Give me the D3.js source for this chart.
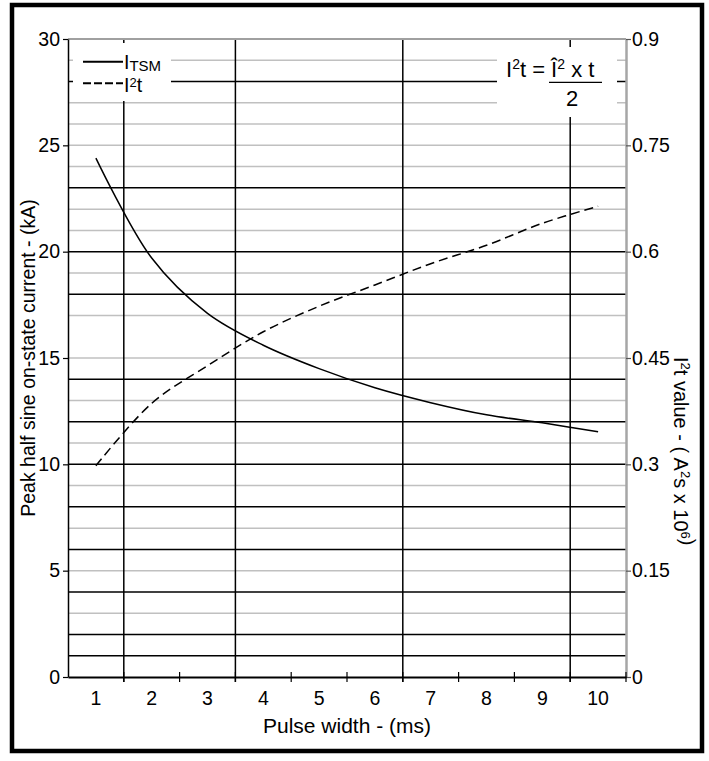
<!DOCTYPE html>
<html>
<head>
<meta charset="utf-8">
<script src="https://cdn.jsdelivr.net/npm/d3@7"></script>
<style>
body { margin: 0; background: #fff; }
text { font-family: Arial, 'Liberation Sans', sans-serif; fill: #000; }
</style>
</head>
<body>
<svg id="chart"></svg>
<script>
// values
const pulseWidth = ['1', '2', '3', '4', '5', '6', '7', '8', '9', '10'];
const itsmKA = [24.4, 19.7, 17.1, 15.6, 14.5, 13.6, 12.9, 12.33, 11.95, 11.53];
const i2tValue = [0.298, 0.386, 0.439, 0.487, 0.523, 0.553, 0.583, 0.609, 0.640, 0.664];

const leftTicks = [0, 5, 10, 15, 20, 25, 30];
const rightTicks = [0, 0.15, 0.3, 0.45, 0.6, 0.75, 0.9];
const blackGrid = [1, 2, 4, 6, 8, 10, 12, 14, 18, 20, 23, 28];
const grayGrid = [3, 5, 7, 9, 11, 13, 15, 17, 19, 21, 22, 24, 25, 26, 27, 29];
const blackColumnsAfter = ['1', '3', '6', '9'];

class SurgeChart {

      constructor(config) {
            this.config = {
                  parent: config.parent,
                  width: config.width || 709,
                  height: config.height || 761,
                  margin: config.margin || {top: 39, right: 83, bottom: 84, left: 68},
                  fontSize: config.fontSize || 19.5
            }
            this.init();
      }

      init() {
            let self = this;

            self.svg = d3.select(self.config.parent)
                  .attr('width', self.config.width)
                  .attr('height', self.config.height);

            self.inner_width = self.config.width - self.config.margin.left - self.config.margin.right;
            self.inner_height = self.config.height - self.config.margin.top - self.config.margin.bottom;

            self.chart = self.svg.append('g')
                  .attr('transform', `translate(${self.config.margin.left}, ${self.config.margin.top})`);

            self.xscale = d3.scaleBand()
                  .domain(pulseWidth)
                  .range([0, self.inner_width])
                  .padding(0);

            self.yleft = d3.scaleLinear()
                  .domain([0, 30])
                  .range([self.inner_height, 0]);

            self.yright = d3.scaleLinear()
                  .domain([0, 0.9])
                  .range([self.inner_height, 0]);
      }

      render() {
            let self = this;
            const W = self.inner_width, H = self.inner_height;
            const fs = self.config.fontSize + 'px';

            // outer frame
            self.svg.append('rect')
                  .attr('x', 12).attr('y', 5)
                  .attr('width', 690).attr('height', 746)
                  .attr('fill', 'none')
                  .attr('stroke', '#000')
                  .attr('stroke-width', 4.5);

            // grid
            self.chart.selectAll('.gray-grid')
                  .data(grayGrid)
                  .enter().append('line')
                  .attr('x1', 0).attr('x2', W)
                  .attr('y1', d => self.yleft(d)).attr('y2', d => self.yleft(d))
                  .attr('stroke', '#c0c0c0').attr('stroke-width', 1.5);

            self.chart.selectAll('.black-grid')
                  .data(blackGrid)
                  .enter().append('line')
                  .attr('x1', 0).attr('x2', W)
                  .attr('y1', d => self.yleft(d)).attr('y2', d => self.yleft(d))
                  .attr('stroke', '#000').attr('stroke-width', 1.5);

            self.chart.selectAll('.col-grid')
                  .data(blackColumnsAfter)
                  .enter().append('line')
                  .attr('x1', d => self.xscale(d) + self.xscale.bandwidth())
                  .attr('x2', d => self.xscale(d) + self.xscale.bandwidth())
                  .attr('y1', 0).attr('y2', H + 5)
                  .attr('stroke', '#000').attr('stroke-width', 1.5);

            // top border
            self.chart.append('line')
                  .attr('x1', 0).attr('x2', W)
                  .attr('y1', 0).attr('y2', 0)
                  .attr('stroke', '#a0a0a0').attr('stroke-width', 2);

            // left axis
            const left = self.chart.append('g')
                  .call(d3.axisLeft(self.yleft).tickValues(leftTicks).tickSize(5).tickPadding(3).tickSizeOuter(0));
            left.select('.domain').attr('stroke', '#000').attr('stroke-width', 1.5);
            left.selectAll('.tick line').attr('stroke', '#000').attr('stroke-width', 1.2);
            left.selectAll('text').style('font-size', fs).attr('fill', '#000');

            // right axis
            const right = self.chart.append('g')
                  .attr('transform', `translate(${W}, 0)`)
                  .call(d3.axisRight(self.yright).tickValues(rightTicks).tickSize(5).tickPadding(1).tickSizeOuter(0)
                        .tickFormat(d => String(d)));
            right.select('.domain').attr('stroke', '#a6a6a6').attr('stroke-width', 2.5);
            right.selectAll('.tick line').attr('stroke', '#555').attr('stroke-width', 1.2);
            right.selectAll('text').style('font-size', fs).attr('fill', '#000');

            // bottom axis (labels centred in bands, ticks on band edges)
            const bottom = self.chart.append('g')
                  .attr('transform', `translate(0, ${H})`)
                  .call(d3.axisBottom(self.xscale).tickSize(0).tickPadding(14));
            bottom.select('.domain').attr('stroke', '#000').attr('stroke-width', 2);
            bottom.selectAll('text').style('font-size', fs).attr('fill', '#000');

            bottom.selectAll('.edge')
                  .data(pulseWidth)
                  .enter().append('line')
                  .attr('x1', d => self.xscale(d) + self.xscale.bandwidth())
                  .attr('x2', d => self.xscale(d) + self.xscale.bandwidth())
                  .attr('y1', -5).attr('y2', 5)
                  .attr('stroke', '#000').attr('stroke-width', 1.2);

            // legend box
            self.chart.append('rect')
                  .attr('x', 5).attr('y', 4)
                  .attr('width', 98).attr('height', 58)
                  .attr('fill', '#fff');

            // formula box
            self.chart.append('rect')
                  .attr('x', 429).attr('y', 8)
                  .attr('width', 120).attr('height', 70)
                  .attr('fill', '#fff');

            // curves
            const cx = d => self.xscale(d) + self.xscale.bandwidth() / 2;

            const itsmLine = d3.line()
                  .x((d, i) => cx(pulseWidth[i]))
                  .y(d => self.yleft(d))
                  .curve(d3.curveCatmullRom);

            const i2tLine = d3.line()
                  .x((d, i) => cx(pulseWidth[i]))
                  .y(d => self.yright(d))
                  .curve(d3.curveCatmullRom);

            self.chart.append('path')
                  .attr('d', itsmLine(itsmKA))
                  .attr('fill', 'none')
                  .attr('stroke', '#000')
                  .attr('stroke-width', 1.5);

            self.chart.append('path')
                  .attr('d', i2tLine(i2tValue))
                  .attr('fill', 'none')
                  .attr('stroke', '#000')
                  .attr('stroke-width', 1.5)
                  .attr('stroke-dasharray', '9,5');

            // legend
            self.chart.append('line')
                  .attr('x1', 15).attr('x2', 55)
                  .attr('y1', 22.7).attr('y2', 22.7)
                  .attr('stroke', '#000').attr('stroke-width', 2);
            self.chart.append('line')
                  .attr('x1', 15).attr('x2', 55)
                  .attr('y1', 44.3).attr('y2', 44.3)
                  .attr('stroke', '#000').attr('stroke-width', 2)
                  .attr('stroke-dasharray', '8,3');

            const l1 = self.chart.append('text')
                  .attr('x', 56).attr('y', 30.3)
                  .style('font-size', '19.5px');
            l1.append('tspan').text('I');
            l1.append('tspan').attr('dy', 1.5).style('font-size', '15px').text('TSM');

            const l2 = self.chart.append('text')
                  .attr('x', 56).attr('y', 52.7)
                  .style('font-size', '19.5px');
            l2.append('tspan').text('I');
            l2.append('tspan').attr('dy', -5).style('font-size', '13px').text('2');
            l2.append('tspan').attr('dy', 5).text('t');

            // formula
            const f = self.chart.append('text')
                  .attr('x', 438).attr('y', 37.7)
                  .style('font-size', '22px');
            f.append('tspan').text('I');
            f.append('tspan').attr('dy', -8).style('font-size', '14px').text('2');
            f.append('tspan').attr('dy', 8).text('t = Î');
            f.append('tspan').attr('dy', -8).style('font-size', '14px').text('2');
            f.append('tspan').attr('dy', 8).text(' x t');

            self.chart.append('line')
                  .attr('x1', 481).attr('x2', 534)
                  .attr('y1', 43.3).attr('y2', 43.3)
                  .attr('stroke', '#000').attr('stroke-width', 1.2);

            self.chart.append('text')
                  .attr('x', 504).attr('y', 67)
                  .attr('text-anchor', 'middle')
                  .style('font-size', '22px')
                  .text('2');

            // axis titles
            self.svg.append('text')
                  .attr('x', self.config.margin.left + W / 2)
                  .attr('y', 733)
                  .attr('text-anchor', 'middle')
                  .style('font-size', '21px')
                  .text('Pulse width - (ms)');

            self.svg.append('text')
                  .attr('transform', `translate(35, ${self.config.margin.top + H / 2}) rotate(-90)`)
                  .attr('text-anchor', 'middle')
                  .style('font-size', fs)
                  .text('Peak half sine on-state current - (kA)');

            const rt = self.svg.append('text')
                  .attr('transform', 'translate(674, 357) rotate(90)')
                  .attr('text-anchor', 'start')
                  .style('font-size', '20px');
            rt.append('tspan').text('I');
            rt.append('tspan').attr('dy', -7).style('font-size', '13px').text('2');
            rt.append('tspan').attr('dy', 7).text('t value - ( A');
            rt.append('tspan').attr('dy', -7).style('font-size', '13px').text('2');
            rt.append('tspan').attr('dy', 7).text('s x 10');
            rt.append('tspan').attr('dy', -7).style('font-size', '13px').text('6');
            rt.append('tspan').style('font-size', '20px').text(')');
      }
}

const chart = new SurgeChart({parent: '#chart'});
chart.render();
</script>
</body>
</html>
